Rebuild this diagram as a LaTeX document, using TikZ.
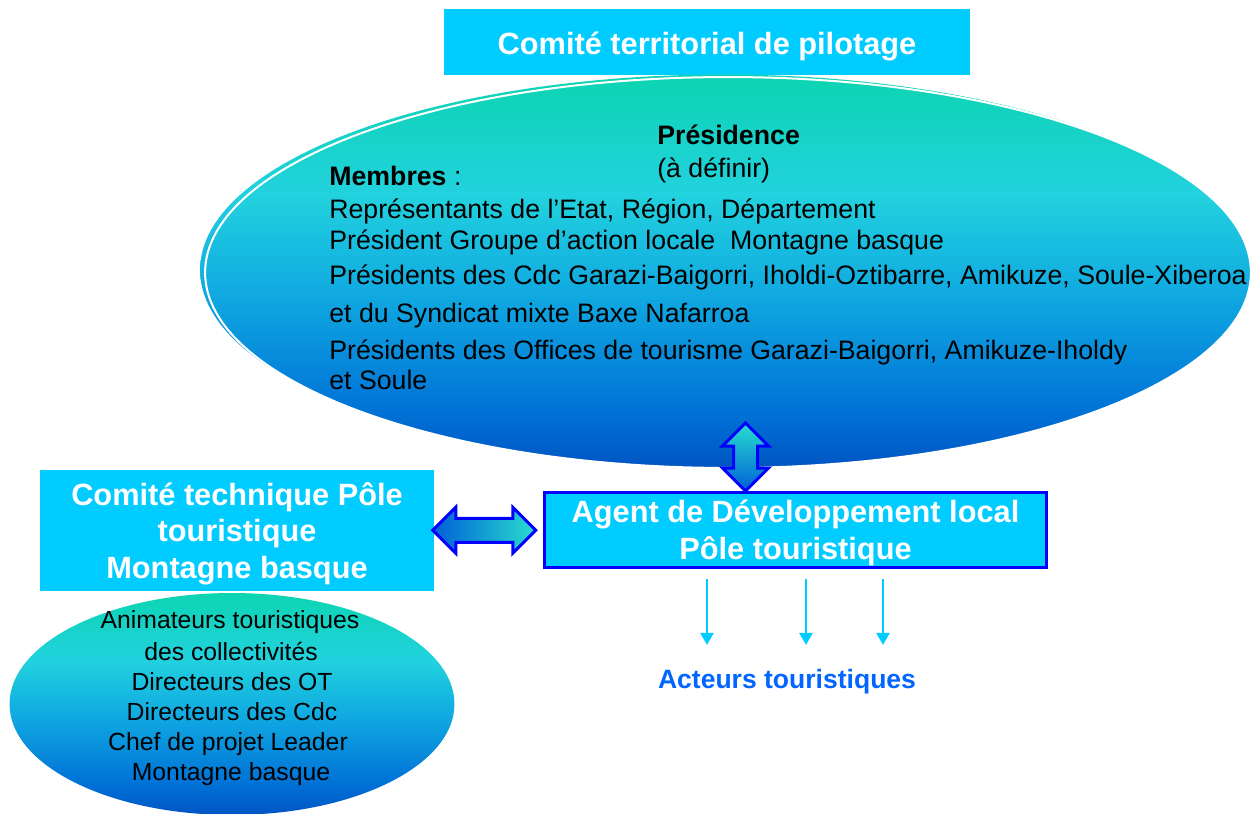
\documentclass[tikz,border=0pt]{standalone}
\usepackage{fontspec}
\setmainfont{Liberation Sans}
\usetikzlibrary{shapes.geometric,shapes.arrows,arrows.meta,calc}

\definecolor{boxcyan}{RGB}{0,204,255}
\definecolor{edgeblue}{RGB}{0,0,255}
\definecolor{linkteal}{RGB}{40,222,205}
\definecolor{linkblue}{RGB}{0,95,215}
\definecolor{acteurblue}{RGB}{0,102,255}
\definecolor{ovaltop}{RGB}{12,212,178}
\definecolor{ovalcyan}{RGB}{34,210,222}
\definecolor{ovalsky}{RGB}{16,170,225}
\definecolor{ovalblue}{RGB}{0,115,215}
\definecolor{ovaldeep}{RGB}{0,85,195}

\pgfdeclareverticalshading{ovalshade}{100bp}{color(0bp)=(ovaldeep); color(25bp)=(ovaldeep); color(32.5bp)=(ovalblue); color(47.5bp)=(ovalsky); color(60bp)=(ovalcyan); color(75bp)=(ovaltop); color(100bp)=(ovaltop)}

\tikzset{
  titlebox/.style={rectangle, fill=boxcyan, text=white, font=\fontsize{17.5}{20.7}\selectfont\bfseries, align=center, inner sep=0pt},
  agentbox/.style={titlebox, draw=edgeblue, line width=0.06cm, font=\fontsize{17.5}{21}\selectfont\bfseries},
  ovalnode/.style={ellipse, shading=ovalshade, inner sep=0pt},
  ovaltext/.style={font=\fontsize{15.2}{18}\selectfont, anchor=base west, inner sep=0pt},
  ovalline/.style={font=\fontsize{14.1}{17}\selectfont, anchor=base, inner sep=0pt},
  dblarrow/.style={double arrow, double arrow head extend=0.22cm, double arrow tip angle=90, minimum width=0.86cm, inner xsep=0pt, inner ysep=0.21cm, left color=linkblue, right color=linkteal, draw=edgeblue, line width=0.06cm},
  feedarrow/.style={draw=boxcyan, line width=0.05cm, -{Triangle[length=0.24cm,width=0.26cm]}}
}

\begin{document}
\begin{tikzpicture}[x=0.02cm,y=-0.02cm]
    \useasboundingbox[fill=white] (0,0) rectangle (1255,814);

    % Top title
    \node[titlebox, minimum width=10.52cm, minimum height=1.32cm, text height=0.52cm, text depth=0cm] (ctp) at (707,42) {Comité territorial de pilotage};

    % Big oval, with its shifted copy behind
    \node[ovalnode, minimum width=20.92cm, minimum height=7.82cm] (ctp-back) at (723,270) {};
    \node[ovalnode, draw=white, line width=0.04cm, minimum width=20.92cm, minimum height=7.82cm] (ctp-oval) at (728,272.5) {};

    \node[ovaltext] (pres) at (657,145) {\bfseries Présidence};
    \node[ovaltext] (pres-def) at (657,178) {(à définir)};
    \node[ovaltext] (membres) at (329,186) {\textbf{Membres} :};
    \node[ovaltext] (m-etat) at (329,219) {Représentants de l’Etat, Région, Département};
    \node[ovaltext] (m-gal) at (329,250) {Président Groupe d’action locale\ \ Montagne basque};
    \node[ovaltext] (m-cdc) at (329,285) {Présidents des Cdc Garazi-Baigorri, Iholdi-Oztibarre, Amikuze, Soule-Xiberoa};
    \node[ovaltext] (m-smbn) at (329,323) {et du Syndicat mixte Baxe Nafarroa};
    \node[ovaltext] (m-ot) at (329,359) {Présidents des Offices de tourisme Garazi-Baigorri, Amikuze-Iholdy};
    \node[ovaltext] (m-soule) at (329,390) {et Soule};

    % Small oval, bottom left
    \node[ovalnode, minimum width=8.9cm, minimum height=4.44cm] (tech-oval) at (232,704) {};
    \node[ovalline] (t-anim) at (230,628) {Animateurs touristiques};
    \node[ovalline] (t-coll) at (231,660) {des collectivités};
    \node[ovalline] (t-ot) at (232,690) {Directeurs des OT};
    \node[ovalline] (t-cdc) at (232,720) {Directeurs des Cdc};
    \node[ovalline] (t-chef) at (228,750) {Chef de projet Leader};
    \node[ovalline] (t-mb) at (231,780) {Montagne basque};

    % Technical committee and agent
    \node[titlebox, minimum width=7.88cm, minimum height=2.42cm, text depth=0pt] (ctech) at (237,530.5) {Comité technique Pôle\\touristique\\Montagne basque};
    \node[agentbox, minimum width=10.04cm, minimum height=1.5cm, text depth=0pt] (adl) at (795.5,530) {Agent de Développement local\\Pôle touristique};

    % Block arrows
    \node[dblarrow, minimum height=2.06cm] (link-h) at ($(ctech.east)!0.46!(adl.west)$) {};
    \coordinate (vfoot) at (adl.north -| 745.5,0);
    \node[dblarrow, rotate=90, minimum height=1.36cm, top color=linkteal, bottom color=linkblue] (link-v) at ([yshift=0.68cm]vfoot) {};

    % Actors
    \node[font=\fontsize{15.1}{18}\selectfont\bfseries, text=acteurblue, anchor=base, inner sep=0pt] (acteurs) at (787,688) {Acteurs touristiques};
    \foreach \x in {707,806,883}
        \draw[feedarrow, shorten <=0.2cm, shorten >=0.47cm] (adl.south -| \x,0) -- (acteurs.north -| \x,0);
\end{tikzpicture}
\end{document}
